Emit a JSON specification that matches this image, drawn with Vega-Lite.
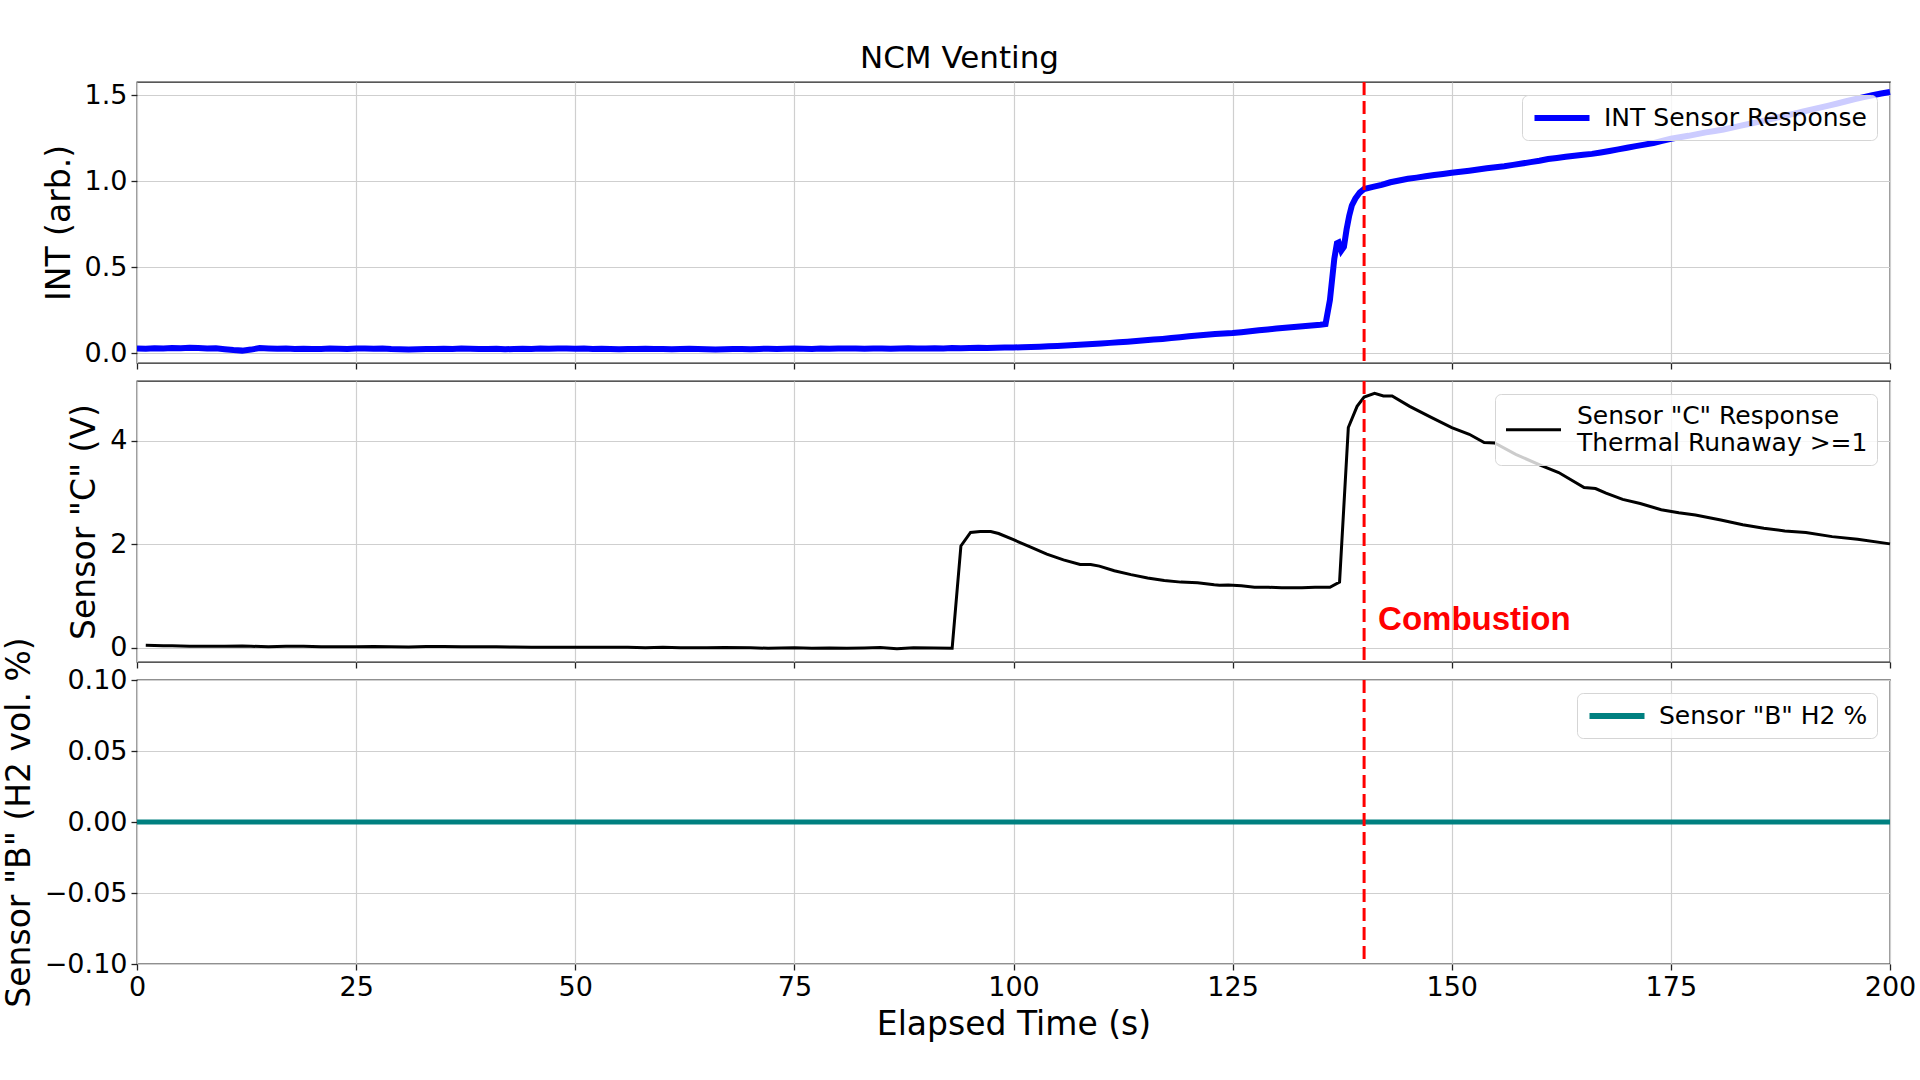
{
  "$schema": "https://vega.github.io/schema/vega-lite/v6.json",
  "background": "white",
  "padding": {"left": 2, "top": 43, "right": 0, "bottom": 0},
  "title": {"text": "NCM Venting", "fontSize": 31, "font": "DejaVu Sans", "fontWeight": "normal", "color": "black", "anchor": "middle", "offset": 4},
  "config": {
    "view": {"stroke": "#222222", "strokeWidth": 1.3},
    "axis": {
      "labelFont": "DejaVu Sans", "labelFontSize": 27, "labelColor": "black", "labelFlush": false,
      "titleFont": "DejaVu Sans", "titleFontSize": 33, "titleFontWeight": "normal", "titleColor": "black",
      "tickColor": "#222222", "tickSize": 6, "tickWidth": 1.3, "labelPadding": 4, "titlePadding": 8,
      "domain": false, "grid": true, "gridColor": "#cfcfcf", "gridWidth": 1.2
    },
    "legend": {
      "orient": "top-right", "offset": 13, "title": null, "symbolType": "M-2.5,0H2.5", "symbolSize": 484, "symbolOffset": 17,
      "labelFont": "DejaVu Sans", "labelFontSize": 25, "labelColor": "black", "labelLimit": 800,
      "fillColor": "rgba(255,255,255,0.8)", "strokeColor": "#d5d5d5", "cornerRadius": 6, "padding": 9, "labelOffset": 28
    }
  },
  "datasets": {
    "int": [
      {"t":0,"v":0.028},{"t":1,"v":0.027},{"t":2,"v":0.030},{"t":3,"v":0.029},{"t":4,"v":0.031},{"t":5,"v":0.030},{"t":6,"v":0.032},{"t":7,"v":0.031},{"t":8,"v":0.029},{"t":9,"v":0.030},
      {"t":10,"v":0.024},{"t":11,"v":0.019},{"t":12,"v":0.016},{"t":13,"v":0.022},{"t":14,"v":0.031},{"t":15,"v":0.029},{"t":16,"v":0.027},{"t":17,"v":0.028},{"t":18,"v":0.026},{"t":19,"v":0.027},
      {"t":20,"v":0.025},{"t":21,"v":0.026},{"t":22,"v":0.028},{"t":23,"v":0.027},{"t":24,"v":0.026},{"t":25,"v":0.028},{"t":26,"v":0.029},{"t":27,"v":0.027},{"t":28,"v":0.028},{"t":29,"v":0.025},
      {"t":30,"v":0.024},{"t":31,"v":0.022},{"t":32,"v":0.024},{"t":33,"v":0.026},{"t":34,"v":0.025},{"t":35,"v":0.027},{"t":36,"v":0.026},{"t":37,"v":0.028},{"t":38,"v":0.027},{"t":39,"v":0.025},
      {"t":40,"v":0.026},{"t":41,"v":0.027},{"t":42,"v":0.024},{"t":43,"v":0.026},{"t":44,"v":0.027},{"t":45,"v":0.026},{"t":46,"v":0.028},{"t":47,"v":0.027},{"t":48,"v":0.029},{"t":49,"v":0.028},
      {"t":50,"v":0.027},{"t":51,"v":0.028},{"t":52,"v":0.026},{"t":53,"v":0.027},{"t":54,"v":0.025},{"t":55,"v":0.024},{"t":56,"v":0.026},{"t":57,"v":0.025},{"t":58,"v":0.027},{"t":59,"v":0.026},
      {"t":60,"v":0.025},{"t":61,"v":0.024},{"t":62,"v":0.026},{"t":63,"v":0.027},{"t":64,"v":0.025},{"t":65,"v":0.024},{"t":66,"v":0.022},{"t":67,"v":0.024},{"t":68,"v":0.026},{"t":69,"v":0.025},
      {"t":70,"v":0.024},{"t":71,"v":0.026},{"t":72,"v":0.027},{"t":73,"v":0.026},{"t":74,"v":0.027},{"t":75,"v":0.028},{"t":76,"v":0.027},{"t":77,"v":0.026},{"t":78,"v":0.028},{"t":79,"v":0.027},
      {"t":80,"v":0.028},{"t":81,"v":0.029},{"t":82,"v":0.028},{"t":83,"v":0.027},{"t":84,"v":0.029},{"t":85,"v":0.028},{"t":86,"v":0.027},{"t":87,"v":0.029},{"t":88,"v":0.030},{"t":89,"v":0.029},
      {"t":90,"v":0.028},{"t":91,"v":0.030},{"t":92,"v":0.029},{"t":93,"v":0.031},{"t":94,"v":0.030},{"t":95,"v":0.031},{"t":96,"v":0.032},{"t":97,"v":0.031},{"t":98,"v":0.033},{"t":99,"v":0.034},
      {"t":100,"v":0.034},{"t":101,"v":0.036},{"t":102,"v":0.037},{"t":103,"v":0.039},{"t":104,"v":0.041},{"t":105,"v":0.043},{"t":106,"v":0.046},{"t":107,"v":0.048},{"t":108,"v":0.051},{"t":109,"v":0.054},
      {"t":110,"v":0.057},{"t":111,"v":0.061},{"t":112,"v":0.064},{"t":113,"v":0.068},{"t":114,"v":0.072},{"t":115,"v":0.076},{"t":116,"v":0.080},{"t":117,"v":0.084},{"t":118,"v":0.089},{"t":119,"v":0.094},
      {"t":120,"v":0.099},{"t":121,"v":0.104},{"t":122,"v":0.108},{"t":123,"v":0.112},{"t":124,"v":0.115},{"t":125,"v":0.118},{"t":126,"v":0.123},{"t":127,"v":0.128},{"t":128,"v":0.134},{"t":129,"v":0.139},
      {"t":130,"v":0.144},{"t":131,"v":0.149},{"t":132,"v":0.153},{"t":133,"v":0.158},{"t":134,"v":0.162},{"t":135,"v":0.166},{"t":135.6,"v":0.170},{"t":136.1,"v":0.31},{"t":136.6,"v":0.55},{"t":136.9,"v":0.64},
      {"t":137.1,"v":0.645},{"t":137.4,"v":0.598},{"t":137.7,"v":0.62},{"t":138.0,"v":0.72},{"t":138.3,"v":0.80},{"t":138.6,"v":0.86},{"t":139.0,"v":0.90},{"t":139.5,"v":0.935},{"t":140,"v":0.956},
      {"t":141,"v":0.968},{"t":142,"v":0.98},{"t":143,"v":0.995},{"t":144,"v":1.005},{"t":145,"v":1.015},{"t":146,"v":1.022},{"t":147,"v":1.03},{"t":148,"v":1.037},{"t":149,"v":1.043},
      {"t":150,"v":1.05},{"t":151,"v":1.056},{"t":152,"v":1.062},{"t":153,"v":1.069},{"t":154,"v":1.076},{"t":155,"v":1.082},{"t":156,"v":1.088},{"t":157,"v":1.096},{"t":158,"v":1.104},{"t":159,"v":1.112},
      {"t":160,"v":1.12},{"t":161,"v":1.13},{"t":162,"v":1.136},{"t":163,"v":1.143},{"t":164,"v":1.149},{"t":165,"v":1.155},{"t":166,"v":1.16},{"t":167,"v":1.168},{"t":168,"v":1.177},{"t":169,"v":1.186},
      {"t":170,"v":1.196},{"t":171,"v":1.205},{"t":172,"v":1.214},{"t":173,"v":1.223},{"t":174,"v":1.236},{"t":175,"v":1.248},{"t":176,"v":1.257},{"t":177,"v":1.265},{"t":178,"v":1.275},{"t":179,"v":1.285},
      {"t":180,"v":1.293},{"t":181,"v":1.302},{"t":182,"v":1.313},{"t":183,"v":1.324},{"t":184,"v":1.335},{"t":185,"v":1.346},{"t":186,"v":1.358},{"t":187,"v":1.37},{"t":188,"v":1.382},{"t":189,"v":1.393},
      {"t":190,"v":1.405},{"t":191,"v":1.417},{"t":192,"v":1.429},{"t":193,"v":1.441},{"t":194,"v":1.453},{"t":195,"v":1.466},{"t":196,"v":1.478},{"t":197,"v":1.49},{"t":198,"v":1.501},{"t":199,"v":1.511},{"t":200,"v":1.52}
    ],
    "c": [
      {"t":1,"v":0.05},{"t":2,"v":0.045},{"t":3,"v":0.04},{"t":4,"v":0.04},{"t":5,"v":0.035},{"t":6,"v":0.03},{"t":8,"v":0.03},{"t":10,"v":0.03},{"t":12,"v":0.035},{"t":13,"v":0.03},
      {"t":15,"v":0.02},{"t":17,"v":0.03},{"t":19,"v":0.03},{"t":21,"v":0.02},{"t":23,"v":0.02},{"t":25,"v":0.02},{"t":27,"v":0.025},{"t":29,"v":0.02},{"t":31,"v":0.015},{"t":33,"v":0.025},
      {"t":35,"v":0.025},{"t":37,"v":0.02},{"t":39,"v":0.02},{"t":41,"v":0.02},{"t":43,"v":0.015},{"t":45,"v":0.01},{"t":48,"v":0.01},{"t":50,"v":0.01},{"t":53,"v":0.01},{"t":56,"v":0.01},
      {"t":58,"v":0.0},{"t":60,"v":0.01},{"t":62,"v":0.0},{"t":65,"v":0.0},{"t":67,"v":0.005},{"t":70,"v":0.0},{"t":72,"v":-0.01},{"t":75,"v":0.0},{"t":77,"v":-0.01},{"t":79,"v":-0.005},
      {"t":81,"v":-0.01},{"t":83,"v":-0.005},{"t":84.8,"v":0.005},{"t":86.7,"v":-0.02},{"t":88.6,"v":0.0},{"t":90.9,"v":-0.005},{"t":93.0,"v":-0.01},{"t":94.0,"v":1.97},{"t":95.1,"v":2.23},{"t":96.2,"v":2.25},
      {"t":97.4,"v":2.25},{"t":98.3,"v":2.21},{"t":100,"v":2.09},{"t":101.9,"v":1.95},{"t":103.8,"v":1.81},{"t":105.7,"v":1.70},{"t":107.6,"v":1.61},{"t":108.8,"v":1.61},{"t":109.8,"v":1.58},{"t":111.5,"v":1.49},
      {"t":113.4,"v":1.415},{"t":115.3,"v":1.35},{"t":117.2,"v":1.30},{"t":119.1,"v":1.27},{"t":121.0,"v":1.26},{"t":122.9,"v":1.22},{"t":123.5,"v":1.21},{"t":124.5,"v":1.215},{"t":126.0,"v":1.20},{"t":127.5,"v":1.17},
      {"t":129.1,"v":1.17},{"t":130.6,"v":1.16},{"t":132.9,"v":1.16},{"t":134.4,"v":1.17},{"t":136.1,"v":1.17},{"t":137.2,"v":1.27},{"t":138.2,"v":4.26},{"t":139.2,"v":4.67},{"t":140.0,"v":4.85},{"t":141.2,"v":4.92},
      {"t":142.2,"v":4.87},{"t":143.2,"v":4.87},{"t":145.2,"v":4.67},{"t":147.6,"v":4.46},{"t":150.0,"v":4.26},{"t":152.0,"v":4.13},{"t":153.7,"v":3.97},{"t":154.9,"v":3.96},{"t":157.3,"v":3.74},{"t":160.3,"v":3.52},
      {"t":162.2,"v":3.39},{"t":165.1,"v":3.10},{"t":166.4,"v":3.08},{"t":167.6,"v":2.99},{"t":169.5,"v":2.87},{"t":171.5,"v":2.79},{"t":173.9,"v":2.67},{"t":175.9,"v":2.61},{"t":177.8,"v":2.57},{"t":180.7,"v":2.47},
      {"t":183.2,"v":2.38},{"t":185.6,"v":2.31},{"t":188.0,"v":2.26},{"t":190.4,"v":2.23},{"t":193.4,"v":2.15},{"t":196.3,"v":2.10},{"t":200.0,"v":2.01}
    ],
    "b": [
      {"t":0,"v":0},{"t":10,"v":0},{"t":20,"v":0},{"t":30,"v":0},{"t":40,"v":0},{"t":50,"v":0},{"t":60,"v":0},{"t":70,"v":0},{"t":80,"v":0},{"t":90,"v":0},{"t":100,"v":0},
      {"t":110,"v":0},{"t":120,"v":0},{"t":130,"v":0},{"t":140,"v":0},{"t":150,"v":0},{"t":160,"v":0},{"t":170,"v":0},{"t":180,"v":0},{"t":190,"v":0},{"t":200,"v":0}
    ],
    "ev": [{"t":140}],
    "ann": [{"t":141.6,"v":0.34,"label":"Combustion"}]
  },
  "resolve": {"scale": {"x": "independent", "y": "independent", "color": "independent"}, "legend": {"color": "independent"}},
  "bounds": "flush",
  "spacing": 18,
  "vconcat": [
    {
      "width": 1753, "height": 281,
      "layer": [
        {
          "data": {"name": "int"},
          "mark": {"type": "line", "strokeWidth": 6},
          "encoding": {
            "x": {"field": "t", "type": "quantitative", "scale": {"domain": [0, 200], "nice": false, "zero": false}, "axis": {"values": [0,25,50,75,100,125,150,175,200], "labels": false, "title": null}},
            "y": {"field": "v", "type": "quantitative", "scale": {"domain": [-0.056, 1.578], "nice": false, "zero": false}, "axis": {"values": [0,0.5,1,1.5], "format": ".1f", "title": "INT (arb.)"}},
            "color": {"datum": "INT Sensor Response", "scale": {"range": ["#0000ff"]}, "legend": {"symbolStrokeWidth": 6}}
          }
        },
        {
          "data": {"name": "ev"},
          "mark": {"type": "rule", "color": "#ff0000", "strokeWidth": 3, "strokeDash": [13, 6]},
          "encoding": {"x": {"field": "t", "type": "quantitative"}}
        }
      ]
    },
    {
      "width": 1753, "height": 281,
      "layer": [
        {
          "data": {"name": "c"},
          "mark": {"type": "line", "strokeWidth": 3},
          "encoding": {
            "x": {"field": "t", "type": "quantitative", "scale": {"domain": [0, 200], "nice": false, "zero": false}, "axis": {"values": [0,25,50,75,100,125,150,175,200], "labels": false, "title": null}},
            "y": {"field": "v", "type": "quantitative", "scale": {"domain": [-0.275, 5.16], "nice": false, "zero": false}, "axis": {"values": [0,2,4], "format": "d", "title": "Sensor \"C\" (V)"}},
            "color": {"datum": "Sensor \"C\" Response|Thermal Runaway >=1", "scale": {"range": ["#000000"]}, "legend": {"symbolStrokeWidth": 3, "symbolType": "M-2.5,1.3H2.5", "labelOffset": 31, "labelExpr": "split(datum.label, '|')"}}
          }
        },
        {
          "data": {"name": "ev"},
          "mark": {"type": "rule", "color": "#ff0000", "strokeWidth": 3, "strokeDash": [13, 6]},
          "encoding": {"x": {"field": "t", "type": "quantitative"}}
        },
        {
          "data": {"name": "ann"},
          "mark": {"type": "text", "align": "left", "baseline": "alphabetic", "font": "Liberation Sans", "fontWeight": "bold", "fontSize": 33, "color": "#ff0000"},
          "encoding": {
            "x": {"field": "t", "type": "quantitative"},
            "y": {"field": "v", "type": "quantitative"},
            "text": {"field": "label"}
          }
        }
      ]
    },
    {
      "width": 1753, "height": 284,
      "layer": [
        {
          "data": {"name": "b"},
          "mark": {"type": "line", "strokeWidth": 5},
          "encoding": {
            "x": {"field": "t", "type": "quantitative", "scale": {"domain": [0, 200], "nice": false, "zero": false}, "axis": {"values": [0,25,50,75,100,125,150,175,200], "format": "d", "title": "Elapsed Time (s)"}},
            "y": {"field": "v", "type": "quantitative", "scale": {"domain": [-0.1, 0.1], "nice": false, "zero": false}, "axis": {"values": [-0.1,-0.05,0,0.05,0.1], "format": ".2f", "title": "Sensor \"B\" (H2 vol. %)"}},
            "color": {"datum": "Sensor \"B\" H2 %", "scale": {"range": ["#008080"]}, "legend": {"symbolStrokeWidth": 6}}
          }
        },
        {
          "data": {"name": "ev"},
          "mark": {"type": "rule", "color": "#ff0000", "strokeWidth": 3, "strokeDash": [13, 6]},
          "encoding": {"x": {"field": "t", "type": "quantitative"}}
        }
      ]
    }
  ]
}
